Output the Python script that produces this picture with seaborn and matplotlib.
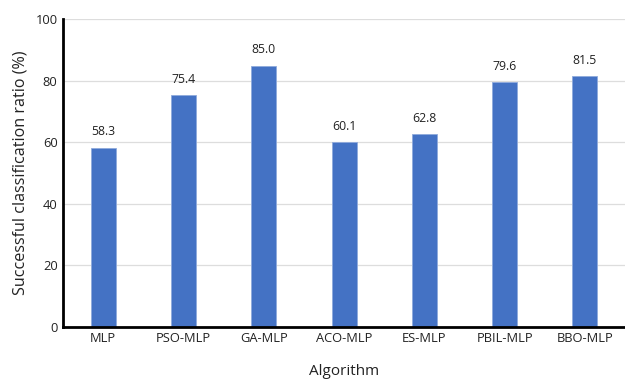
import matplotlib
matplotlib.use("Agg")
import matplotlib.pyplot as plt
import pandas as pd
import seaborn as sns

algorithms = ["MLP", "PSO-MLP", "GA-MLP", "ACO-MLP", "ES-MLP", "PBIL-MLP", "BBO-MLP"]
ratios = [58.3, 75.4, 85.0, 60.1, 62.8, 79.6, 81.5]
y_ticks = [0, 20, 40, 60, 80, 100]

df = pd.DataFrame({"Algorithm": algorithms, "Ratio": ratios})

sns.set_style("white")
plt.rcParams["font.family"] = ["Open Sans", "DejaVu Sans"]

fig = plt.figure(figsize=(6.25, 3.81), dpi=100)
ax = fig.add_axes([0.101, 0.142, 0.899, 0.807])

sns.barplot(data=df, x="Algorithm", y="Ratio", color="#4472C4", width=0.31,
            saturation=1, edgecolor="#8FAADC", linewidth=0.6, ax=ax)

for i, v in enumerate(ratios):
    ax.text(i, v + 3, f"{v:.1f}", ha="center", va="bottom", fontsize=8.8, color="#222222")

ax.set_ylim(0, 100)
ax.set_xlim(-0.5, len(algorithms) - 0.5)
ax.set_yticks(y_ticks)
ax.yaxis.grid(True, color="#DDDDDD", linewidth=0.9)
ax.set_axisbelow(True)
ax.tick_params(axis="both", length=0, labelsize=9.3, colors="#222222", pad=4)

for s in ["top", "right"]:
    ax.spines[s].set_visible(False)
for s in ["left", "bottom"]:
    ax.spines[s].set_color("black")
    ax.spines[s].set_linewidth(2.0)

ax.set_ylabel("Successful classification ratio (%)", fontsize=11.6, color="#222222", labelpad=5)
ax.set_xlabel("Algorithm", fontsize=11, color="#222222", labelpad=13)

fig.savefig("out.png", dpi=100)
